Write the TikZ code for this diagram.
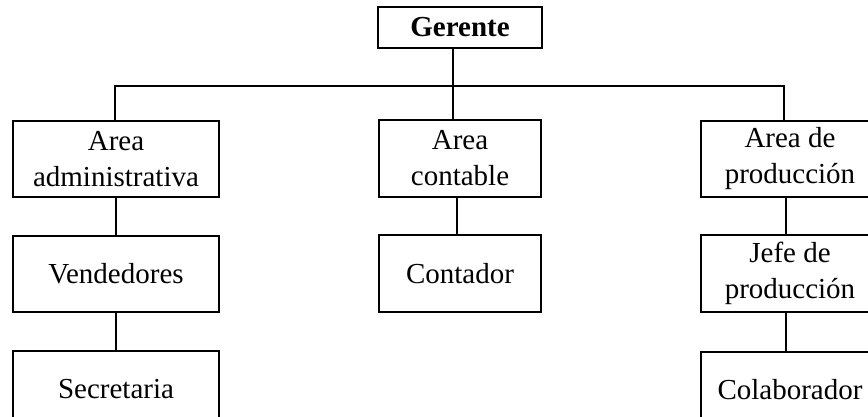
\documentclass[tikz,border=0pt]{standalone}
\usepackage{fontspec}
\setmainfont{Liberation Serif}
\tikzset{
  box/.style={draw, line width=2.8pt, inner sep=0pt, align=center,
    font=\fontsize{29}{36}\selectfont},
  conn/.style={line width=1.8pt},
  bar/.style={line width=2.6pt}
}
\begin{document}
\begin{tikzpicture}[x=1pt,y=-1pt]
\clip (0,0) rectangle (868,417);
\fill[white] (0,0) rectangle (868,417);
\node[box, minimum width=164pt, minimum height=41pt, font=\fontsize{29}{36}\selectfont\bfseries] (ger) at (460,27.5) {Gerente};
\node[box, minimum width=206pt, minimum height=76pt] (adm) at (116,159) {Area\\administrativa};
\node[box, minimum width=206pt, minimum height=76pt] (ven) at (116,274) {Vendedores};
\node[box, minimum width=206pt, minimum height=76pt] (sec) at (116,389) {Secretaria};
\node[box, minimum width=162pt, minimum height=77pt] (cnt) at (460,158.5) {Area\\contable};
\node[box, minimum width=162pt, minimum height=77pt] (cdr) at (460,273.5) {Contador};
\node[box, minimum width=178pt, minimum height=76pt] (pro) at (790,159) {Area de\\producción};
\node[box, minimum width=178pt, minimum height=77pt] (jef) at (790,273.5) {Jefe de\\producción};
\node[box, minimum width=178pt, minimum height=76pt] (col) at (790,390) {Colaborador};
\coordinate (barL) at (115,86);
\coordinate (barR) at (784,86);
\draw[bar] (adm.north -| barL) -- (barL) -- (barR) -- (pro.north -| barR);
\draw[conn] ([xshift=-7pt]ger.south) -- ([xshift=-7pt]cnt.north);
\draw[conn] ([xshift=-3pt]cnt.south) -- ([xshift=-3pt]cdr.north);
\draw[conn] (adm.south) -- (ven.north);
\draw[conn] (ven.south) -- (sec.north);
\draw[conn] ([xshift=-4pt]pro.south) -- ([xshift=-4pt]jef.north);
\draw[conn] ([xshift=-4pt]jef.south) -- ([xshift=-4pt]col.north);
\end{tikzpicture}
\end{document}
